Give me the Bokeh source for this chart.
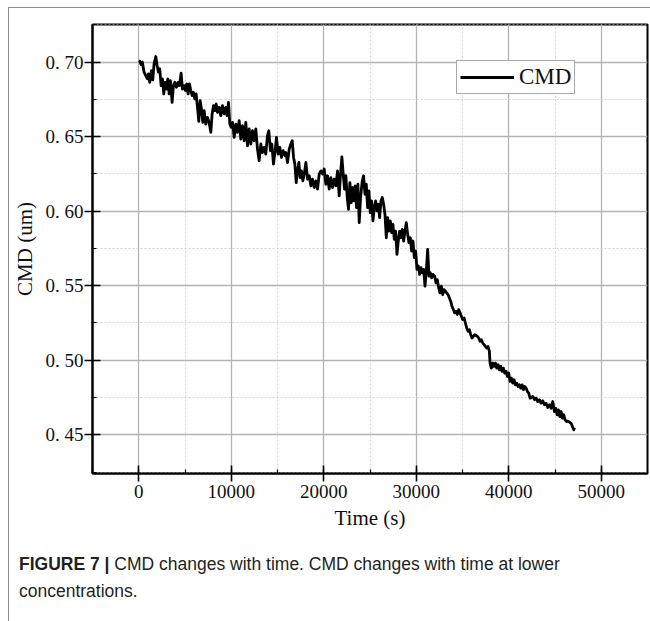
from bokeh.plotting import figure
from bokeh.models import Range1d, SingleIntervalTicker, CustomJSTickFormatter, Div, Spacer
from bokeh.layouts import column, row
from bokeh.embed import file_html
from bokeh.resources import INLINE

# ---- data ----
time_s = [
    0, 108, 250, 390, 575, 757, 937, 1046, 1190, 1370, 1515, 1659, 1840, 1984, 2128, 2272,
    2416, 2560, 2705, 2849, 2993, 3137, 3282, 3426, 3606, 3750, 3895, 4075, 4255, 4400, 4580,
    4724, 4904, 5049, 5193, 5337, 5482, 5626, 5770, 5914, 6059, 6203, 6347, 6492, 6636, 6780,
    6924, 7069, 7249, 7429,
    7610, 7790, 7935, 8080, 8220, 8365, 8510, 8690, 8870, 9050, 9230, 9410, 9555, 9700, 9845,
    9990, 10135, 10315, 10495, 10675, 10855, 11035, 11215, 11395, 11575, 11755, 11935, 12115,
    12295, 12475, 12655, 12835, 13015, 13195, 13375, 13555, 13735, 13915, 14060, 14240, 14385,
    14565, 14745, 14890, 15070, 15250, 15430, 15610, 15826,
    15906, 16086, 16266, 16446, 16590, 16735, 16879, 17023, 17168, 17312, 17456, 17600, 17745,
    17889, 18069, 18250, 18430, 18610, 18790, 18970, 19150, 19330, 19510, 19690, 19870, 20050,
    20230, 20410, 20590, 20770, 20950, 21130, 21310, 21490, 21670, 21815, 21960, 22104, 22248,
    22393, 22537, 22681, 22825, 22970, 23114, 23258, 23402, 23546, 23691, 23835, 23979,
    24164, 24308, 24453, 24597, 24741, 24885, 25030, 25174, 25318, 25462, 25607, 25751, 25895,
    26040, 26184, 26328, 26472, 26617, 26761, 26905, 27049, 27194, 27338, 27482, 27627, 27771,
    27915, 28059, 28204, 28348, 28492, 28636, 28781, 28925, 29069, 29213, 29358, 29502, 29646,
    29790, 29935, 30079, 30223, 30368, 30512, 30656, 30800, 30945, 31089, 31233, 31378, 31522,
    31666, 31810, 31991,
    32135, 32280, 32424, 32568, 32713, 32857, 33001, 33145, 33290, 33434, 33578, 33722, 33867,
    34011, 34155, 34300, 34444, 34588, 34732, 34877, 35021, 35165, 35309, 35454, 35598, 35742,
    35887, 36031, 36175, 36319, 36464, 36608, 36752, 36896, 37041, 37185, 37329, 37473, 37618,
    37762, 37906, 37978, 38123, 38267, 38411, 38555, 38700, 38844, 38988, 39132, 39277, 39421,
    39565, 39709, 39854, 39998, 40142, 40286, 40431, 40575, 40719, 40863, 41008, 41152, 41296,
    41441, 41585, 41729, 41873, 42018, 42162, 42306,
    42594, 42775, 42955, 43135, 43316, 43496, 43676, 43857, 44037, 44217, 44398, 44578, 44758,
    44939, 45083, 45227, 45371, 45516, 45660, 45804, 45949, 46093, 46237, 46381, 46562, 46742,
    46886, 47030, 47103,
]
cmd_um = [
    0.7010, 0.7007, 0.6985, 0.7000, 0.6933, 0.6910, 0.6888, 0.6922, 0.6865, 0.6944, 0.6882,
    0.6990, 0.7038, 0.6978, 0.6933, 0.6956, 0.6843, 0.6888, 0.6787, 0.6865, 0.6820, 0.6888,
    0.6787, 0.6877, 0.6731, 0.6843, 0.6865, 0.6832, 0.6865, 0.6843, 0.6926, 0.6820, 0.6843,
    0.6810, 0.6855, 0.6787, 0.6855, 0.6810, 0.6776, 0.6798, 0.6754, 0.6787, 0.6697, 0.6603,
    0.6742, 0.6686, 0.6596, 0.6675, 0.6585, 0.6630,
    0.6596, 0.6529, 0.6653, 0.6709, 0.6675, 0.6720, 0.6664, 0.6697, 0.6641, 0.6709, 0.6653,
    0.6697, 0.6641, 0.6731, 0.6585, 0.6563, 0.6596, 0.6495, 0.6585, 0.6529, 0.6608, 0.6484,
    0.6574, 0.6473, 0.6596, 0.6439, 0.6552, 0.6451, 0.6541, 0.6473, 0.6552, 0.6417, 0.6338,
    0.6451, 0.6394, 0.6428, 0.6383, 0.6507, 0.6540, 0.6406, 0.6451, 0.6316, 0.6406, 0.6495,
    0.6383, 0.6428, 0.6361, 0.6406, 0.6372,
    0.6394, 0.6327, 0.6417, 0.6451, 0.6473, 0.6361, 0.6316, 0.6192, 0.6271, 0.6327, 0.6226,
    0.6271, 0.6204, 0.6249, 0.6327, 0.6215, 0.6238, 0.6170, 0.6215, 0.6159, 0.6204, 0.6148,
    0.6249, 0.6271, 0.6249, 0.6283, 0.6181, 0.6238, 0.6148, 0.6226, 0.6159, 0.6215, 0.6170,
    0.6271, 0.6103, 0.6249, 0.6365, 0.6249, 0.6148, 0.6238, 0.6092, 0.6013, 0.6192, 0.6058,
    0.6159, 0.6069, 0.6170, 0.6024, 0.6181, 0.5923, 0.6092,
    0.6204, 0.6238, 0.6114, 0.6182, 0.6024, 0.6137, 0.5990, 0.6069, 0.5935, 0.6024, 0.6069,
    0.6002, 0.6047, 0.5957, 0.6069, 0.6092, 0.6047, 0.5980, 0.5822, 0.5957, 0.5867, 0.5935,
    0.5856, 0.5912, 0.5811, 0.5867, 0.5710, 0.5800, 0.5867, 0.5822, 0.5878, 0.5800, 0.5867,
    0.5923, 0.5845, 0.5789, 0.5822, 0.5733, 0.5800, 0.5688, 0.5733, 0.5610, 0.5632, 0.5576,
    0.5621, 0.5587, 0.5610, 0.5497, 0.5599, 0.5744, 0.5564, 0.5587, 0.5553, 0.5576, 0.5564,
    0.5519, 0.5541, 0.5486, 0.5452, 0.5497, 0.5441, 0.5474, 0.5463, 0.5452, 0.5441, 0.5419,
    0.5396, 0.5363, 0.5340, 0.5318, 0.5329, 0.5307, 0.5340, 0.5318, 0.5295, 0.5273, 0.5284,
    0.5250, 0.5217, 0.5194, 0.5205, 0.5172, 0.5149, 0.5160, 0.5172, 0.5166, 0.5160, 0.5149,
    0.5127, 0.5138, 0.5115, 0.5105, 0.5093, 0.5082, 0.5093, 0.5060, 0.4981, 0.4947, 0.4981,
    0.4959, 0.4981, 0.4947, 0.4970, 0.4936, 0.4959, 0.4925, 0.4947, 0.4914, 0.4925, 0.4891,
    0.4914, 0.4858, 0.4880, 0.4846, 0.4869, 0.4835, 0.4846, 0.4824, 0.4835, 0.4813, 0.4835,
    0.4802, 0.4824, 0.4813, 0.4790, 0.4779, 0.4745,
    0.4757, 0.4735, 0.4746, 0.4723, 0.4735, 0.4712, 0.4728, 0.4701, 0.4712, 0.4683, 0.4701,
    0.4678, 0.4723, 0.4656, 0.4678, 0.4634, 0.4667, 0.4622, 0.4656, 0.4611, 0.4634, 0.4600,
    0.4589, 0.4592, 0.4585, 0.4577, 0.4555, 0.4533, 0.4548,
]
series_name = "CMD"
x_title = "Time (s)"
y_title = "CMD (um)"
caption_bold = "FIGURE 7 |"
caption_rest_1 = "CMD changes with time. CMD changes with time at lower"
caption_rest_2 = "concentrations."

SERIF = "Liberation Serif"

p = figure(width=641, height=531, output_backend="svg", toolbar_location=None,
           x_range=Range1d(-5000, 55000), y_range=Range1d(0.424, 0.7253),
           min_border_left=83, min_border_right=3, min_border_top=16, min_border_bottom=66,
           background_fill_color="white", border_fill_color="white", margin=0)

p.line(time_s, cmd_um, line_color="black", line_width=2.8, line_join="round",
       legend_label=series_name)

p.xaxis.ticker = SingleIntervalTicker(interval=10000, num_minor_ticks=2)
p.yaxis.ticker = SingleIntervalTicker(interval=0.05, num_minor_ticks=2)
p.xaxis.formatter = CustomJSTickFormatter(code="return tick.toFixed(0);")
p.yaxis.formatter = CustomJSTickFormatter(code="return tick.toFixed(2).replace('.', '. ');")

for ax in (p.xaxis[0], p.yaxis[0]):
    ax.axis_line_color = "black"
    ax.axis_line_width = 2
    ax.major_tick_line_color = "black"
    ax.major_tick_line_width = 1.6
    ax.minor_tick_line_color = "black"
    ax.minor_tick_line_width = 1.2
    ax.major_tick_in = 8
    ax.major_tick_out = 8
    ax.minor_tick_in = 4
    ax.minor_tick_out = 0
    ax.major_label_text_font = SERIF
    ax.major_label_text_font_size = "19px"
    ax.major_label_text_color = "#111111"
    ax.axis_label_text_font = SERIF
    ax.axis_label_text_font_size = "21px"
    ax.axis_label_text_font_style = "normal"
    ax.axis_label_text_color = "#111111"

p.xaxis.axis_label = x_title
p.yaxis.axis_label = y_title
p.xaxis.major_label_standoff = 3
p.xaxis.axis_label_standoff = 5
p.yaxis.major_label_standoff = 1
p.yaxis.axis_label_standoff = 6

for g in (p.xgrid[0], p.ygrid[0]):
    g.grid_line_color = "#b3b3b3"
    g.grid_line_width = 1.3
    g.minor_grid_line_color = "#d2d2d2"
    g.minor_grid_line_width = 1
    g.minor_grid_line_dash = "2 2"

p.outline_line_color = "black"
p.outline_line_width = 2
p.outline_line_alpha = 1

lg = p.legend[0]
lg.location = (364, 379)
lg.margin = 0
lg.padding = 3
lg.spacing = 0
lg.glyph_width = 54
lg.glyph_height = 26
lg.label_height = 26
lg.label_standoff = 5
lg.label_text_font = SERIF
lg.label_text_font_size = "23px"
lg.label_text_color = "#111111"
lg.border_line_color = "#555555"
lg.border_line_width = 1
lg.background_fill_color = "white"
lg.background_fill_alpha = 1

caption = Div(
    text=(
        "<div style=\"font-family:'Liberation Sans',Arial,sans-serif;font-size:17.5px;"
        "line-height:27px;color:#231f20;padding:12px 0 0 10px;white-space:nowrap;\">"
        f"<b>{caption_bold}</b> {caption_rest_1}<br>{caption_rest_2}</div>"
    ),
    width=641, height=82, margin=0,
)

hline = Div(text="", width=642, height=1, margin=0, styles={"background-color": "#8c8c8c"})
vline = Div(text="", width=1, height=613, margin=0, styles={"background-color": "#8c8c8c"})

root = column(
    Spacer(width=650, height=7, margin=0),
    row(Spacer(width=8, height=614, margin=0),
        column(hline, row(vline, column(p, caption, margin=0), margin=0), margin=0),
        margin=0),
    margin=0,
)

open("out.html", "w").write(file_html(root, INLINE))
